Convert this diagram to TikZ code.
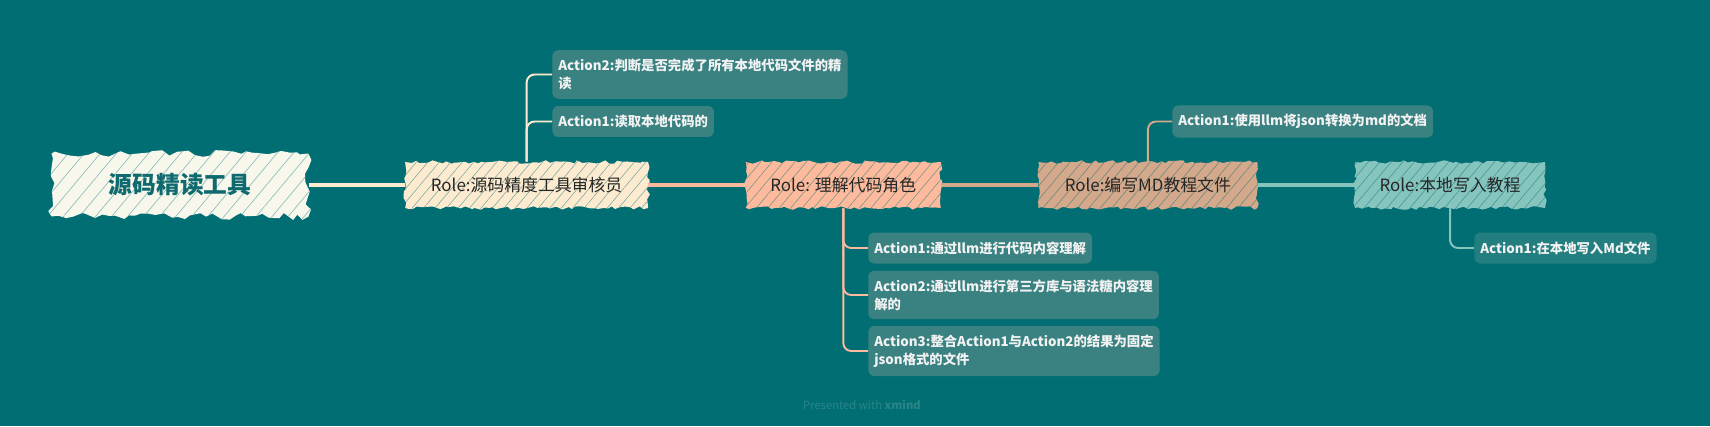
\documentclass[tikz,border=0pt]{standalone}
\usepackage{fontspec}
\setmainfont{Noto Sans CJK SC}
\usepackage{tikz}
\usetikzlibrary{positioning,decorations.pathmorphing,patterns.meta}

\definecolor{bgteal}{HTML}{006E73}
\definecolor{rootfill}{HTML}{F7F7EC}
\definecolor{roottext}{HTML}{0F6A70}
\definecolor{creamc}{HTML}{FDEBD0}
\definecolor{salmonc}{HTML}{FDBA9C}
\definecolor{tanc}{HTML}{D4A88A}
\definecolor{mintc}{HTML}{86C5BE}
\definecolor{actfill}{HTML}{3A8282}
\definecolor{actmint}{HTML}{237E80}
\definecolor{marktext}{HTML}{2A8588}

\begin{document}
\pgfmathsetseed{7}
\begin{tikzpicture}[
    x=0.02cm, y=-0.02cm,
    role/.style={minimum height=0.92cm, inner sep=0pt, font=\fontsize{9.6}{12}\selectfont, text=black!85,
        decorate, decoration={random steps, segment length=2.5pt, amplitude=1pt},
        fill=#1, postaction={pattern={Lines[angle=50,distance=5pt,line width=0.3pt]}, pattern color=bgteal!55!#1}},
    act/.style={fill=#1, rounded corners=0.12cm, anchor=west, align=left, text=white!95!black,
        inner xsep=0.12cm, inner ysep=5pt, minimum height=0.62cm, font=\bfseries\fontsize{7.6}{10.2}\selectfont},
    act/.default=actfill,
    trunk/.style={draw=#1, line width=2.2pt},
    twig/.style={draw=#1, line width=1.1pt, rounded corners=0.16cm},
]
    \fill[bgteal] (0,0) rectangle (1710,426);

    % central topic
    \node[minimum width=5.14cm, minimum height=1.26cm, inner sep=0pt, text=roottext,
        font=\bfseries\fontsize{13.5}{15}\selectfont,
        decorate, decoration={random steps, segment length=4pt, amplitude=2pt},
        fill=rootfill, postaction={pattern={Lines[angle=50,distance=7pt,line width=0.35pt]}, pattern color=bgteal!45!rootfill}]
        (tool) at (180,185) {源码精读工具};

    % roles
    \node[role=creamc, minimum width=4.86cm, right=1.92cm of tool] (audit) {Role:源码精度工具审核员};
    \node[role=salmonc, minimum width=3.9cm, right=1.94cm of audit] (understand) {Role: 理解代码角色};
    \node[role=tanc, minimum width=4.38cm, right=1.94cm of understand] (writemd) {Role:编写MD教程文件};
    \node[role=mintc, minimum width=3.8cm, right=1.94cm of writemd] (localwrite) {Role:本地写入教程};

    % actions
    \node[act] (auditjudge) at (552,74.5) {Action2:判断是否完成了所有本地代码文件的精\\读};
    \node[act] (auditread) at (552,121.5) {Action1:读取本地代码的};

    \node[act] (llmcode) at (868,248) {Action1:通过llm进行代码内容理解};
    \node[act] (llmlib) at (868,295) {Action2:通过llm进行第三方库与语法糖内容理\\解的};
    \node[act] (mergejson) at (868,351) {Action3:整合Action1与Action2的结果为固定\\json格式的文件};

    \node[act] (tomd) at (1172,121.5) {Action1:使用llm将json转换为md的文档};

    \node[act=actmint] (savemd) at (1474,248) {Action1:在本地写入Md文件};

    \draw[trunk=creamc] (tool) -- (audit);
    \draw[trunk=salmonc] (audit) -- (understand);
    \draw[trunk=tanc] (understand) -- (writemd);
    \draw[trunk=mintc] (writemd) -- (localwrite);

    \draw[twig=creamc] (audit.north) |- (auditjudge.west);
    \draw[twig=creamc] (audit.north) |- (auditread.west);
    \draw[twig=salmonc] (understand.south) |- (llmcode.west);
    \draw[twig=salmonc] (understand.south) |- (llmlib.west);
    \draw[twig=salmonc] (understand.south) |- (mergejson.west);
    \draw[twig=tanc] (writemd.north) |- (tomd.west);
    \draw[twig=mintc] (localwrite.south) |- (savemd.west);

    \node[text=marktext, font=\fontsize{6.4}{8}\selectfont] (credit) at (862,405) {Presented with \textbf{xmind}};
\end{tikzpicture}
\end{document}
